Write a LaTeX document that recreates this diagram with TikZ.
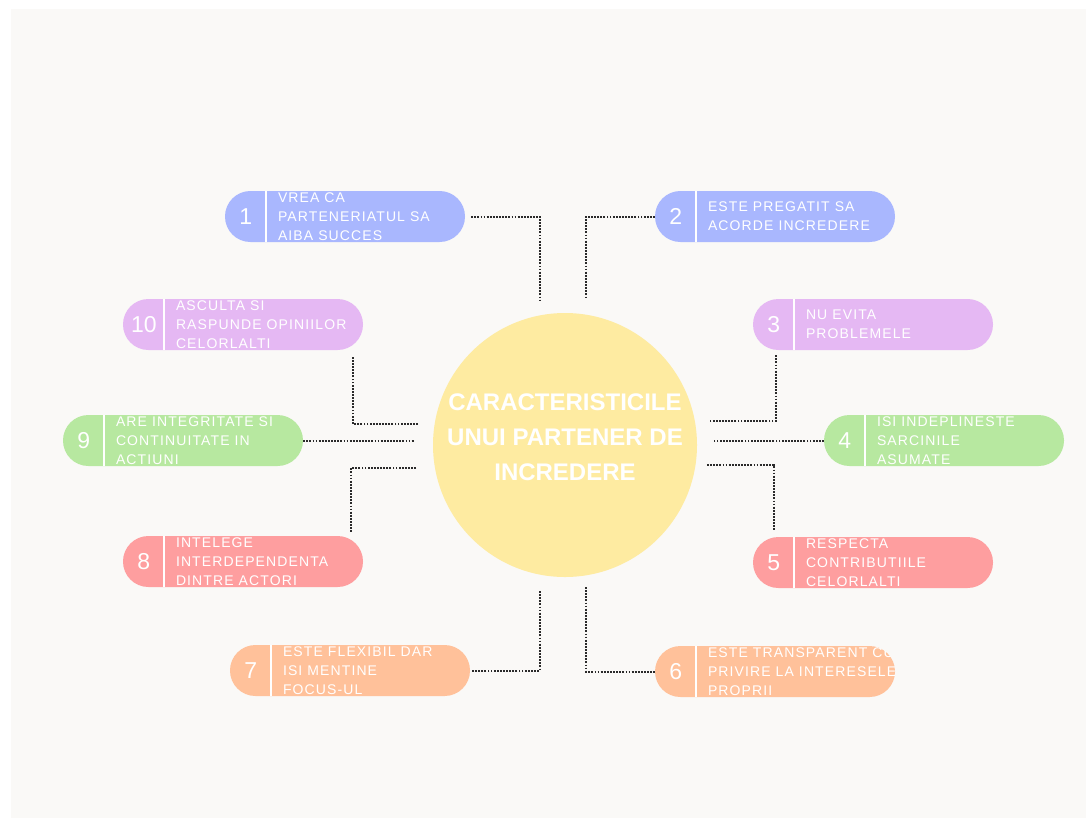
\documentclass[tikz,border=0pt]{standalone}
\usepackage{fontspec}
\setmainfont{Liberation Sans}
\newfontfamily\pillfont{Liberation Sans}[LetterSpace=8]
\newfontfamily\numfont{Liberation Sans}
\usetikzlibrary{calc}
\definecolor{bgc}{HTML}{FAF9F7}
\definecolor{cblue}{HTML}{A9B7FE}
\definecolor{cpurple}{HTML}{E5B8F3}
\definecolor{cgreen}{HTML}{B7E8A0}
\definecolor{cred}{HTML}{FE9E9F}
\definecolor{corange}{HTML}{FFC19A}
\definecolor{ccircle}{HTML}{FEEBA1}
\definecolor{cdot}{HTML}{2A2A2A}
\tikzset{
  pillbox/.style={rectangle, rounded corners=25.4pt, minimum width=240pt, minimum height=51pt, inner sep=0pt, draw=none},
  divider/.style={white, line width=2.5pt},
  numtext/.style={text=white, font=\numfont\fontsize{23}{23}\selectfont, inner sep=0pt},
  pilltext/.style={text=white, font=\pillfont\fontsize{14}{18.7}\selectfont, align=left, inner sep=0pt, anchor=west},
  conn/.style={cdot, line width=2pt, dash pattern=on 1.8pt off 1.3pt},
  hubtext/.style={text=white, font=\bfseries\fontsize{24}{35}\selectfont, align=center, inner sep=0pt}
}
\newcommand\mypill[6]{%
  \node[pillbox, fill=#4] (#1) at ({#2+120},{#3+25.5}) {};
  \begin{scope}
    \clip[rounded corners=25.4pt] (#1.north west) rectangle (#1.south east);
    \draw[divider] ([xshift=41pt]#1.north west) -- ([xshift=41pt]#1.south west);
    \node[numtext] (#1n) at ([xshift=21pt]#1.west) {#5};
    \node[pilltext] (#1t) at ([xshift=53pt]#1.west) {#6};
  \end{scope}
}
\begin{document}
\begin{tikzpicture}[x=1pt,y=-1pt]
\useasboundingbox (0,0) rectangle (1086,820);
\fill[white] (0,0) rectangle (1086,820);
\fill[bgc] (11,9) rectangle (1086,818);

\node[circle, fill=ccircle, minimum size=264pt, inner sep=0pt] (hub) at (565,445) {};
\node[hubtext] (hubt) at (565,437) {CARACTERISTICILE\\UNUI PARTENER DE\\INCREDERE};

\mypill{p1}{225}{191}{cblue}{1}{VREA CA\\PARTENERIATUL SA\\AIBA SUCCES}
\mypill{p2}{655}{191}{cblue}{2}{ESTE PREGATIT SA\\ACORDE INCREDERE}
\mypill{p3}{753}{299}{cpurple}{3}{NU EVITA\\PROBLEMELE}
\mypill{p4}{824}{415}{cgreen}{4}{ISI INDEPLINESTE\\SARCINILE\\ASUMATE}
\mypill{p5}{753}{537}{cred}{5}{RESPECTA\\CONTRIBUTIILE\\CELORLALTI}
\mypill{p6}{655}{646}{corange}{6}{ESTE TRANSPARENT CU\\PRIVIRE LA INTERESELE\\PROPRII}
\mypill{p7}{230}{645}{corange}{7}{ESTE FLEXIBIL DAR\\ISI MENTINE\\FOCUS-UL}
\mypill{p8}{123}{536}{cred}{8}{INTELEGE\\INTERDEPENDENTA\\DINTRE ACTORI}
\mypill{p9}{63}{415}{cgreen}{9}{ARE INTEGRITATE SI\\CONTINUITATE IN\\ACTIUNI}
\mypill{p10}{123}{299}{cpurple}{10}{ASCULTA SI\\RASPUNDE OPINIILOR\\CELORLALTI}

\coordinate (e1) at (540,302);
\coordinate (e2) at (586,297);
\coordinate (e3) at (710,421);
\coordinate (e4) at (713,440.5);
\coordinate (e5) at (707,465);
\coordinate (e6) at (586,587);
\coordinate (e7) at (540,591);
\coordinate (e8) at (416,468);
\coordinate (e9) at (414,440.5);
\coordinate (e10) at (418,424);

\draw[conn] ([xshift=6pt]p1.east) -| (e1);
\draw[conn] (p2.west) -| (e2);
\draw[conn] ([xshift=23pt,yshift=-5pt]p3.south west) |- (e3);
\draw[conn] (p4.west) -- (e4);
\draw[conn] (e5) -| ([xshift=21pt,yshift=6pt]p5.north west);
\draw[conn] (e6) |- (p6.west);
\draw[conn] (e7) |- ([xshift=2pt]p7.east);
\draw[conn] (e8) -| ([xshift=-12pt,yshift=3pt]p8.north east);
\draw[conn] (p9.east) -- (e9);
\draw[conn] (e10) -| ([xshift=-10pt,yshift=-7pt]p10.south east);
\end{tikzpicture}
\end{document}
